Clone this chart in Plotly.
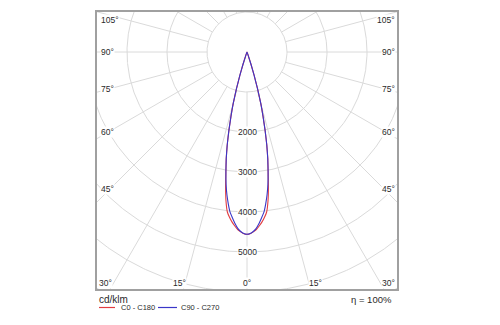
import numpy as np
import plotly.graph_objects as go

# ---------------- data ----------------
gamma_deg = [0, 1, 2, 3, 4, 5, 6, 7, 8, 9, 10, 11, 12, 13, 14, 15, 16, 17, 18, 19, 20]
c0_c180 = [4558, 4545, 4500, 4445, 4360, 4270, 4160, 4030, 3770, 3420, 3040,
           2722, 2382, 2012, 1653, 1330, 960, 605, 328, 90, 0]
c90_c270 = [4558, 4538, 4490, 4415, 4300, 4165, 4033, 3830, 3605, 3345, 3036,
            2722, 2382, 2012, 1653, 1330, 960, 605, 328, 90, 0]
series_names = ["C0 - C180", "C90 - C270"]
ring_values = [1000, 2000, 3000, 4000, 5000, 6000, 7000, 8000]
ring_label_values = [2000, 3000, 4000, 5000]
ray_angles = list(range(-180, 181, 15))
side_angle_labels = ["105°", "90°", "75°", "60°", "45°"]
bottom_angle_labels = ["30°", "15°", "0°", "15°", "30°"]
unit_label = "cd/klm"
efficiency_label = "η = 100%"

# ---------------- styling / layout ----------------
W, H = 500, 325
L, R, T, B = 96, 398, 11, 290          # plot frame in pixels
CX, CY = 247, 52                        # pole of the diagram in pixels
SCALE = 25.0                            # cd/klm per pixel
GRID = "#dadada"
TXT = "#2a2a2a"
FONT = "Liberation Sans"
RED = "#e23c40"
BLUE = "#3a36c8"

x_range = [(L - CX) * SCALE, (R - CX) * SCALE]
y_range = [(CY - B) * SCALE, (CY - T) * SCALE]


def px_x(p):
    return (p - L) / (R - L)


def px_y(p):
    return (B - p) / (B - T)


def plane_xy(gam, vals):
    g = [-v for v in reversed(gam)] + list(gam[1:])
    i = list(reversed(vals)) + list(vals[1:])
    g = np.radians(np.array(g, dtype=float))
    i = np.array(i, dtype=float)
    return i * np.sin(g), -i * np.cos(g)


fig = go.Figure()

# rings
rx, ry = [], []
t = np.linspace(0, 2 * np.pi, 721)
for r in ring_values:
    rx += list(r * np.cos(t)) + [None]
    ry += list(r * np.sin(t)) + [None]
fig.add_trace(go.Scatter(x=rx, y=ry, mode="lines", line=dict(color=GRID, width=1),
                         hoverinfo="skip", showlegend=False))

# rays (from the first ring outward)
ax_, ay_ = [], []
for a in ray_angles:
    ar = np.radians(a)
    r0, r1 = ring_values[0], ring_values[-1] * 1.2
    ax_ += [r0 * np.sin(ar), r1 * np.sin(ar), None]
    ay_ += [-r0 * np.cos(ar), -r1 * np.cos(ar), None]
fig.add_trace(go.Scatter(x=ax_, y=ay_, mode="lines", line=dict(color=GRID, width=1),
                         hoverinfo="skip", showlegend=False))

# curves
for vals, col, name in [(c0_c180, RED, series_names[0]), (c90_c270, BLUE, series_names[1])]:
    x, y = plane_xy(gamma_deg, vals)
    fig.add_trace(go.Scatter(x=x, y=y, mode="lines", name=name,
                             line=dict(color=col, width=1.1, shape="spline", smoothing=0.4),
                             showlegend=False))

ann = []
# ring labels
for v in ring_label_values:
    ann.append(dict(x=0, y=-v, xref="x", yref="y", text=str(v), showarrow=False,
                    font=dict(size=8.5, color=TXT, family=FONT), bgcolor="white",
                    borderpad=0, xanchor="center", yanchor="middle"))
# side angle labels
side_y = [20, 52.3, 89, 132.3, 189.3]
for lab, py in zip(side_angle_labels, side_y):
    ann.append(dict(x=px_x(99.5), y=px_y(py), xref="paper", yref="paper", text=lab,
                    showarrow=False, font=dict(size=8.5, color=TXT, family=FONT),
                    bgcolor="white", borderpad=0, xanchor="left", yanchor="middle"))
    ann.append(dict(x=px_x(395.5), y=px_y(py), xref="paper", yref="paper", text=lab,
                    showarrow=False, font=dict(size=8.5, color=TXT, family=FONT),
                    bgcolor="white", borderpad=0, xanchor="right", yanchor="middle"))
bottom_x = [105, 179, 247.3, 315, 388]
for lab, pxx in zip(bottom_angle_labels, bottom_x):
    ann.append(dict(x=px_x(pxx), y=px_y(283.3), xref="paper", yref="paper", text=lab,
                    showarrow=False, font=dict(size=8.5, color=TXT, family=FONT),
                    bgcolor="white", borderpad=0, xanchor="center", yanchor="middle"))

# footer
ann.append(dict(x=px_x(97), y=px_y(299), xref="paper", yref="paper", text=unit_label,
                showarrow=False, font=dict(size=10, color=TXT, family=FONT),
                xanchor="left", yanchor="middle"))
ann.append(dict(x=px_x(394), y=px_y(299), xref="paper", yref="paper", text=efficiency_label,
                showarrow=False, font=dict(size=9.5, color=TXT, family=FONT),
                xanchor="right", yanchor="middle"))
ann.append(dict(x=px_x(119), y=px_y(307.5), xref="paper", yref="paper", text=series_names[0],
                showarrow=False, font=dict(size=7.5, color=TXT, family=FONT),
                xanchor="left", yanchor="middle"))
ann.append(dict(x=px_x(179), y=px_y(307.5), xref="paper", yref="paper", text=series_names[1],
                showarrow=False, font=dict(size=7.5, color=TXT, family=FONT),
                xanchor="left", yanchor="middle"))

shapes = [
    dict(type="rect", xref="paper", yref="paper", x0=0, x1=1, y0=0, y1=1,
         line=dict(color="#a0a0a0", width=2), layer="above"),
    dict(type="line", xref="paper", yref="paper", x0=px_x(99), x1=px_x(115),
         y0=px_y(307.5), y1=px_y(307.5), line=dict(color=RED, width=1.2)),
    dict(type="line", xref="paper", yref="paper", x0=px_x(158), x1=px_x(177),
         y0=px_y(307.5), y1=px_y(307.5), line=dict(color=BLUE, width=1.2)),
]

fig.update_layout(
    width=W, height=H,
    margin=dict(l=L, r=W - R, t=T, b=H - B, pad=0),
    paper_bgcolor="white", plot_bgcolor="white",
    xaxis=dict(range=x_range, visible=False, fixedrange=True),
    yaxis=dict(range=y_range, visible=False, fixedrange=True),
    annotations=ann, shapes=shapes, showlegend=False,
    font=dict(family=FONT, color=TXT),
)

fig.write_html("out.html")
